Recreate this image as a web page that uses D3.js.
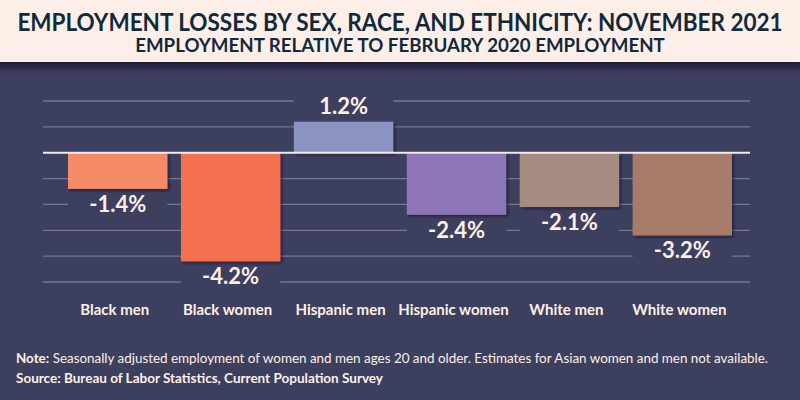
<!DOCTYPE html>
<html>
<head>
<meta charset="utf-8">
<script src="https://cdn.jsdelivr.net/npm/d3@7"></script>
<style>
  html, body { margin: 0; padding: 0; background: #3d3f5e; }
  svg { display: block; }
</style>
</head>
<body>
<div id="chart"></div>
<script>
// Employment relative to Feb 2020, Nov 2021
const categories = ['Black men', 'Black women', 'Hispanic men', 'Hispanic women', 'White men', 'White women'];
const values = [-1.4, -4.2, 1.2, -2.4, -2.1, -3.2];
const barColors = ['#f58a69', '#f3714f', '#8e94c2', '#8d76b7', '#a68b80', '#a77a6b'];
const gridValues = [-5, -4, -3, -2, -1, 1, 2];

const titleText = 'EMPLOYMENT LOSSES BY SEX, RACE, AND ETHNICITY: NOVEMBER 2021';
const subtitleText = 'EMPLOYMENT RELATIVE TO FEBRUARY 2020 EMPLOYMENT';
const noteText = ' Seasonally adjusted employment of women and men ages 20 and older. Estimates for Asian women and men not available.';
const sourceText = 'Source: Bureau of Labor Statistics, Current Population Survey';

const width = 800, height = 400;
const bg = '#3d3f5e';
const cream = '#fdf0e8';
const font = 'Lato, "Open Sans", sans-serif';

const svg = d3.select('#chart')
    .append('svg')
    .attr('width', width)
    .attr('height', height);

const defs = svg.append('defs');
defs.append('filter')
    .attr('id', 'barShadow')
    .attr('x', '-10%').attr('y', '-10%').attr('width', '130%').attr('height', '130%')
    .append('feDropShadow')
    .attr('dx', 2).attr('dy', 2)
    .attr('stdDeviation', 1.2)
    .attr('flood-color', '#15152b')
    .attr('flood-opacity', 0.6);

defs.append('filter')
    .attr('id', 'headShadow')
    .attr('x', '-5%').attr('y', '-20%').attr('width', '110%').attr('height', '160%')
    .append('feDropShadow')
    .attr('dx', 4).attr('dy', 4)
    .attr('stdDeviation', 4)
    .attr('flood-color', '#080822')
    .attr('flood-opacity', 0.95);

svg.append('rect')
    .attr('width', width)
    .attr('height', height)
    .attr('fill', bg);

// Header band
svg.append('rect')
    .attr('x', -10).attr('y', 0)
    .attr('width', width + 10).attr('height', 62)
    .attr('fill', '#fdefe8')
    .attr('filter', 'url(#headShadow)');

// squeeze a centred heading horizontally so it spans targetWidth
function condensed(text, y, size, targetWidth) {
    const t = svg.append('text')
        .attr('text-anchor', 'middle')
        .style('font-family', font)
        .style('font-weight', 700)
        .style('font-size', size + 'px')
        .style('fill', '#102a3c')
        .text(text);
    const w = t.node().getComputedTextLength();
    t.attr('transform', `translate(${width / 2},${y}) scale(${targetWidth / w},1)`);
    return t;
}

condensed(titleText, 31, 25, 766);
condensed(subtitleText, 52, 18, 530);

// Scales
const x = d3.scaleBand()
    .domain(categories)
    .range([68, 732])
    .paddingInner(0.12)
    .paddingOuter(0);

const y = d3.scaleLinear()
    .domain([-5, 2])
    .range([282, 101]);

// Gridlines
svg.append('g')
    .selectAll('line')
    .data(gridValues)
    .enter()
    .append('line')
    .attr('x1', 43)
    .attr('x2', 750)
    .attr('y1', d => y(d))
    .attr('y2', d => y(d))
    .attr('stroke', '#7a7590')
    .attr('stroke-width', 1.3);

const data = categories.map((c, i) => ({ cat: c, value: values[i], color: barColors[i] }));

// Label backgrounds hide the gridlines behind the value labels
svg.append('g')
    .selectAll('rect')
    .data(data)
    .enter()
    .append('rect')
    .attr('x', d => x(d.cat))
    .attr('y', d => d.value < 0 ? y(d.value) + 3 : y(d.value) - 31)
    .attr('width', x.bandwidth())
    .attr('height', 28)
    .attr('fill', bg);

// Bars
svg.append('g')
    .selectAll('rect')
    .data(data)
    .enter()
    .append('rect')
    .attr('x', d => x(d.cat))
    .attr('y', d => y(Math.max(0, d.value)))
    .attr('width', x.bandwidth())
    .attr('height', d => Math.abs(y(d.value) - y(0)))
    .attr('fill', d => d.color)
    .attr('filter', 'url(#barShadow)');

// Zero line
svg.append('line')
    .attr('x1', 43)
    .attr('x2', 750)
    .attr('y1', y(0))
    .attr('y2', y(0))
    .attr('stroke', '#f4ecea')
    .attr('stroke-width', 2);

// Value labels (plain hyphen for negatives, like the original)
svg.append('g')
    .selectAll('text')
    .data(data)
    .enter()
    .append('text')
    .attr('x', d => x(d.cat) + x.bandwidth() / 2)
    .attr('y', d => d.value < 0 ? y(d.value) + 23 : y(d.value) - 8)
    .attr('text-anchor', 'middle')
    .style('font-family', font)
    .style('font-weight', 700)
    .style('font-size', '22px')
    .style('fill', cream)
    .text(d => d.value.toFixed(1) + '%');

// Category labels
svg.append('g')
    .selectAll('text')
    .data(categories)
    .enter()
    .append('text')
    .attr('x', d => x(d) + x.bandwidth() / 2 - 3)
    .attr('y', 315)
    .attr('text-anchor', 'middle')
    .style('font-family', font)
    .style('font-weight', 700)
    .style('font-size', '15px')
    .style('fill', cream)
    .text(d => d);

// Footnotes
const note = svg.append('text')
    .attr('x', 16)
    .attr('y', 363)
    .style('font-family', font)
    .style('font-size', '14px')
    .style('fill', cream);
note.append('tspan').style('font-weight', 700).text('Note:');
note.append('tspan').text(noteText);
note.attr('textLength', 752).attr('lengthAdjust', 'spacingAndGlyphs');

svg.append('text')
    .attr('x', 16)
    .attr('y', 383)
    .attr('textLength', 367)
    .attr('lengthAdjust', 'spacingAndGlyphs')
    .style('font-family', font)
    .style('font-weight', 700)
    .style('font-size', '14px')
    .style('fill', cream)
    .text(sourceText);
</script>
</body>
</html>
